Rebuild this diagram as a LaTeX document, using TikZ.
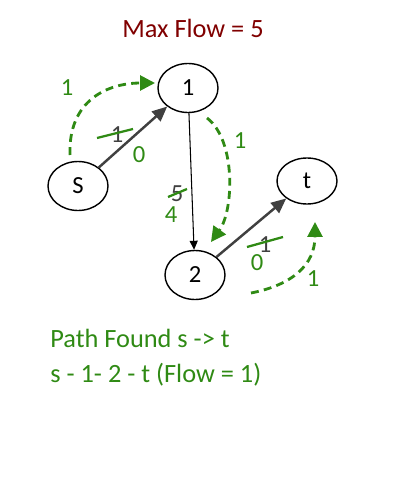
\documentclass[tikz,border=0pt]{standalone}
\usepackage{fontspec}
\setmainfont{Carlito}
\usepackage{tikz}
\usetikzlibrary{arrows.meta,shapes.geometric}
\definecolor{flowgreen}{HTML}{2F8A14}
\definecolor{flowred}{HTML}{800000}
\definecolor{edgegray}{HTML}{404040}
\tikzset{
  vertex/.style={
    ellipse,
    draw=black,
    line width=0.8pt,
    minimum width=1.2cm,
    minimum height=0.98cm,
    inner sep=0pt,
    font=\fontsize{14}{17}\selectfont
  },
  capedge/.style={
    -{Triangle[length=3mm,width=2.6mm]},
    line width=1.4pt,
    draw=edgegray
  },
  thinedge/.style={
    -{Triangle[length=1.8mm,width=1.6mm]},
    line width=0.6pt,
    draw=black
  },
  augment/.style={
    -{Triangle[length=3mm,width=3mm]},
    line width=1.6pt,
    draw=flowgreen,
    dash pattern=on 4.5pt off 3pt
  },
  oldcap/.style={text=edgegray, inner sep=0pt, font=\fontsize{14}{17}\selectfont},
  newcap/.style={text=flowgreen, inner sep=0pt, font=\fontsize{14}{17}\selectfont},
  strike/.style={draw=flowgreen, line width=1.3pt},
  caption/.style={text=flowgreen, inner sep=0pt, anchor=base west, font=\fontsize{15}{18}\selectfont}
}

\begin{document}
\begin{tikzpicture}[x=0.02cm,y=-0.02cm]
\useasboundingbox (0,0) rectangle (400,500);

% title
\node[text=flowred, inner sep=0pt, font=\fontsize{15}{18}\selectfont] (title) at (193,28) {Max Flow = 5};

% vertices
\node[vertex] (s) at (78,186) {S};
\node[vertex] (n1) at (188,88) {1};
\node[vertex] (n2) at (195,275) {2};
\node[vertex, minimum height=0.92cm] (t) at (307,181) {t};

% capacities
\draw[capedge] (s) -- (n1);
\draw[thinedge] (n1) -- (n2);
\draw[capedge] (n2) -- (t);

% residual values
\node[oldcap] (c1) at (117,135) {1};
\draw[strike] (97,138) -- (133,129);
\node[newcap] (r1) at (139,155) {0};
\node[oldcap] (c2) at (177,194) {5};
\draw[strike] (168,197) -- (187,189);
\node[newcap] (r2) at (171,215) {4};
\node[oldcap] (c3) at (265,245) {1};
\draw[strike] (247,247) -- (283,237);
\node[newcap] (r3) at (257,263) {0};

% augmenting path
\coordinate (a0) at (70,155);
\coordinate (a1) at (155,83);
\coordinate (b0) at (207,118);
\coordinate (b1) at (211,242);
\coordinate (c0) at (251,293);
\coordinate (c1) at (315,222);
\draw[augment] (a0) .. controls (68,100) and (108,83) .. (a1);
\draw[augment] (b0) .. controls (236,140) and (234,210) .. (b1);
\draw[augment] (c0) .. controls (292,285) and (315,265) .. (c1);
\node[newcap] (f1) at (67,88) {1};
\node[newcap] (f2) at (240,141) {1};
\node[newcap] (f3) at (313,279) {1};

% result
\node[caption] (path1) at (50,347) {Path Found s -> t};
\node[caption] (path2) at (50,382) {s - 1- 2 - t (Flow = 1)};
\end{tikzpicture}
\end{document}
